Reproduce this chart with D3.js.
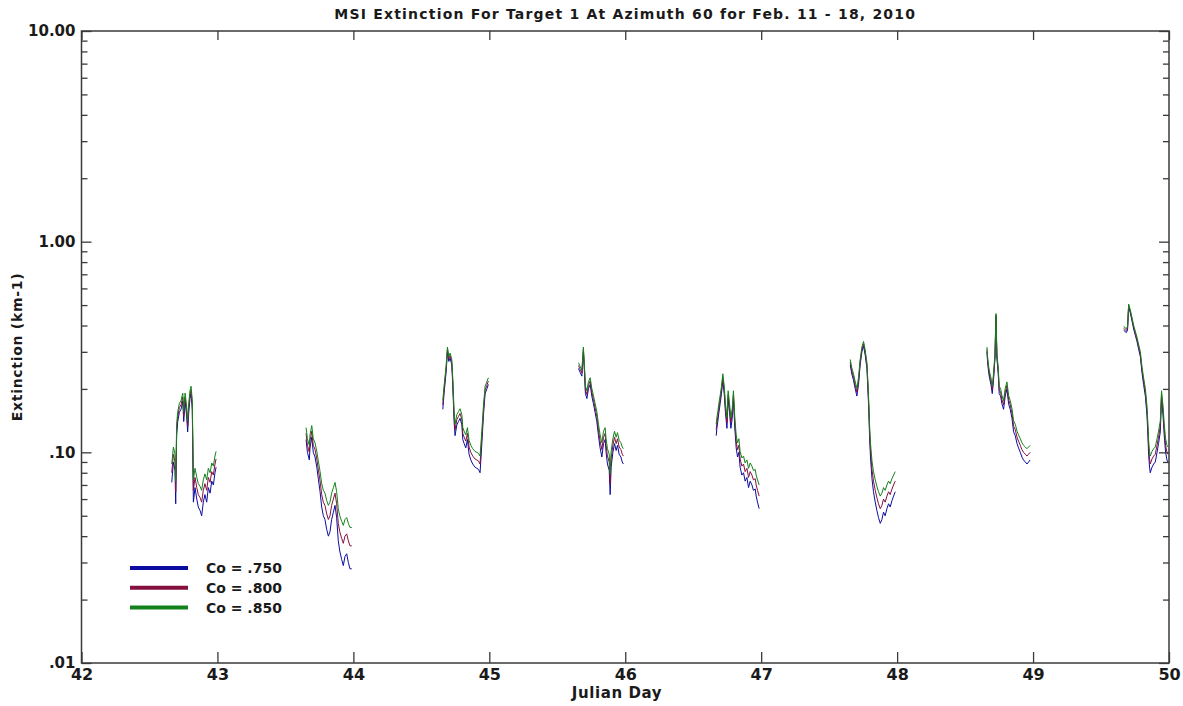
<!DOCTYPE html>
<meta charset='utf-8'>
<title>MSI Extinction</title>
<style>
body {
  margin: 0;
  background-color: #fff;
}
text {
  font-family: "DejaVu Sans", sans-serif;
  font-weight: bold;
  fill: #1a1a1a;
}
</style>
<svg width="1183" height="706"></svg>
<script src="https://d3js.org/d3.v7.min.js"></script>
<script>

// Julian day of each sample (8 daytime runs, Feb 11 - 18)
var julianDay = [
  42.664, 42.676, 42.688, 42.693, 42.700, 42.708, 42.720, 42.732, 42.745, 42.752, 42.762, 42.773, 42.781, 42.789, 42.798, 42.806, 42.815, 42.823, 42.835, 42.848, 42.859, 42.872, 42.884, 42.896, 42.908, 42.921, 42.933, 42.946, 42.958, 42.970, 42.982, 42.990,
  43.652, 43.662, 43.676, 43.681, 43.694, 43.705, 43.718, 43.731, 43.742, 43.755, 43.767, 43.779, 43.791, 43.804, 43.816, 43.828, 43.840, 43.853, 43.865, 43.877, 43.889, 43.900, 43.914, 43.926, 43.938, 43.951, 43.963, 43.975, 43.988,
  44.658, 44.667, 44.682, 44.692, 44.702, 44.712, 44.724, 44.731, 44.741, 44.748, 44.761, 44.773, 44.785, 44.798, 44.805, 44.815, 44.827, 44.839, 44.851, 44.864, 44.878, 44.895, 44.908, 44.920, 44.932, 44.945, 44.957, 44.969, 44.982, 44.993,
  45.656, 45.668, 45.681, 45.692, 45.700, 45.707, 45.718, 45.729, 45.742, 45.754, 45.766, 45.778, 45.791, 45.803, 45.815, 45.828, 45.840, 45.852, 45.859, 45.869, 45.882, 45.889, 45.896, 45.909, 45.921, 45.933, 45.943, 45.955, 45.968, 45.978, 45.986,
  46.669, 46.674, 46.681, 46.689, 46.698, 46.708, 46.718, 46.728, 46.737, 46.748, 46.757, 46.767, 46.777, 46.787, 46.796, 46.806, 46.816, 46.826, 46.836, 46.845, 46.858, 46.870, 46.882, 46.895, 46.907, 46.919, 46.932, 46.943, 46.956, 46.963, 46.973, 46.985,
  47.655, 47.667, 47.679, 47.692, 47.704, 47.716, 47.728, 47.741, 47.753, 47.765, 47.778, 47.785, 47.792, 47.797, 47.804, 47.815, 47.826, 47.839, 47.851, 47.863, 47.876, 47.888, 47.900, 47.912, 47.925, 47.937, 47.949, 47.962, 47.974, 47.986,
  48.661, 48.665, 48.673, 48.680, 48.690, 48.700, 48.709, 48.720, 48.727, 48.734, 48.744, 48.751, 48.761, 48.771, 48.783, 48.795, 48.808, 48.820, 48.832, 48.845, 48.857, 48.869, 48.882, 48.893, 48.906, 48.918, 48.930, 48.943, 48.955, 48.967, 48.979,
  49.666, 49.686, 49.695, 49.703, 49.715, 49.728, 49.740, 49.752, 49.765, 49.776, 49.789, 49.801, 49.813, 49.826, 49.838, 49.845, 49.850, 49.857, 49.862, 49.875, 49.887, 49.899, 49.912, 49.923, 49.936, 49.945, 49.956, 49.965, 49.975, 49.985, 49.992
];

// extinction (km-1) for Co = .750
var co750 = [
  0.072, 0.090, 0.082, 0.057, 0.120, 0.140, 0.155, 0.160, 0.175, 0.140, 0.175, 0.150, 0.125, 0.155, 0.180, 0.190, 0.160, 0.058, 0.068, 0.060, 0.055, 0.053, 0.050, 0.058, 0.063, 0.058, 0.068, 0.064, 0.073, 0.070, 0.080, 0.085,
  0.115, 0.100, 0.092, 0.105, 0.118, 0.100, 0.095, 0.085, 0.075, 0.065, 0.055, 0.050, 0.048, 0.043, 0.040, 0.042, 0.048, 0.052, 0.056, 0.049, 0.038, 0.034, 0.031, 0.029, 0.032, 0.033, 0.030, 0.028, 0.028,
  0.160, 0.190, 0.240, 0.300, 0.270, 0.280, 0.260, 0.210, 0.140, 0.120, 0.135, 0.140, 0.145, 0.135, 0.115, 0.110, 0.105, 0.115, 0.098, 0.092, 0.088, 0.085, 0.084, 0.083, 0.080, 0.110, 0.150, 0.190, 0.200, 0.210,
  0.250, 0.240, 0.230, 0.300, 0.240, 0.190, 0.180, 0.200, 0.210, 0.185, 0.170, 0.155, 0.140, 0.120, 0.105, 0.095, 0.110, 0.115, 0.100, 0.088, 0.082, 0.063, 0.085, 0.100, 0.110, 0.102, 0.108, 0.098, 0.095, 0.090, 0.088,
  0.120, 0.130, 0.140, 0.155, 0.170, 0.190, 0.220, 0.190, 0.155, 0.130, 0.180, 0.155, 0.130, 0.145, 0.180, 0.130, 0.105, 0.095, 0.100, 0.085, 0.078, 0.080, 0.073, 0.076, 0.068, 0.073, 0.070, 0.066, 0.067, 0.062, 0.058, 0.054,
  0.260, 0.235, 0.220, 0.200, 0.185, 0.210, 0.260, 0.300, 0.320, 0.290, 0.250, 0.200, 0.155, 0.120, 0.095, 0.075, 0.065, 0.058, 0.053, 0.049, 0.046, 0.048, 0.052, 0.050, 0.054, 0.057, 0.055, 0.059, 0.062, 0.065,
  0.300, 0.270, 0.240, 0.225, 0.210, 0.190, 0.220, 0.280, 0.440, 0.280, 0.235, 0.190, 0.185, 0.170, 0.160, 0.185, 0.200, 0.170, 0.160, 0.145, 0.125, 0.120, 0.110, 0.105, 0.100, 0.095, 0.092, 0.090, 0.088, 0.090, 0.092,
  0.380, 0.370, 0.380, 0.490, 0.460, 0.420, 0.385, 0.360, 0.335, 0.310, 0.285, 0.240, 0.210, 0.185, 0.150, 0.120, 0.098, 0.085, 0.080, 0.085, 0.088, 0.090, 0.100, 0.110, 0.125, 0.180, 0.150, 0.120, 0.100, 0.092, 0.090
];

// extinction (km-1) for Co = .800
var co800 = [
  0.080, 0.098, 0.090, 0.065, 0.128, 0.148, 0.163, 0.168, 0.183, 0.148, 0.183, 0.158, 0.133, 0.163, 0.188, 0.198, 0.168, 0.066, 0.076, 0.068, 0.063, 0.061, 0.058, 0.066, 0.071, 0.066, 0.076, 0.072, 0.081, 0.078, 0.088, 0.093,
  0.123, 0.108, 0.100, 0.113, 0.126, 0.108, 0.103, 0.093, 0.083, 0.073, 0.063, 0.058, 0.056, 0.051, 0.048, 0.050, 0.056, 0.060, 0.064, 0.057, 0.046, 0.042, 0.039, 0.037, 0.040, 0.041, 0.038, 0.036, 0.036,
  0.168, 0.198, 0.248, 0.308, 0.278, 0.288, 0.268, 0.218, 0.148, 0.128, 0.143, 0.148, 0.153, 0.143, 0.123, 0.118, 0.113, 0.123, 0.106, 0.100, 0.096, 0.093, 0.092, 0.091, 0.088, 0.118, 0.158, 0.198, 0.208, 0.218,
  0.258, 0.248, 0.238, 0.308, 0.248, 0.198, 0.188, 0.208, 0.218, 0.193, 0.178, 0.163, 0.148, 0.128, 0.113, 0.103, 0.118, 0.123, 0.108, 0.096, 0.090, 0.071, 0.093, 0.108, 0.118, 0.110, 0.116, 0.106, 0.103, 0.098, 0.096,
  0.128, 0.138, 0.148, 0.163, 0.178, 0.198, 0.228, 0.198, 0.163, 0.138, 0.188, 0.163, 0.138, 0.153, 0.188, 0.138, 0.113, 0.103, 0.108, 0.093, 0.086, 0.088, 0.081, 0.084, 0.076, 0.081, 0.078, 0.074, 0.075, 0.070, 0.066, 0.062,
  0.268, 0.243, 0.228, 0.208, 0.193, 0.218, 0.268, 0.308, 0.328, 0.298, 0.258, 0.208, 0.163, 0.128, 0.103, 0.083, 0.073, 0.066, 0.061, 0.057, 0.054, 0.056, 0.060, 0.058, 0.062, 0.065, 0.063, 0.067, 0.070, 0.073,
  0.308, 0.278, 0.248, 0.233, 0.218, 0.198, 0.228, 0.288, 0.448, 0.288, 0.243, 0.198, 0.193, 0.178, 0.168, 0.193, 0.208, 0.178, 0.168, 0.153, 0.133, 0.128, 0.118, 0.113, 0.108, 0.103, 0.100, 0.098, 0.096, 0.098, 0.100,
  0.388, 0.378, 0.388, 0.498, 0.468, 0.428, 0.393, 0.368, 0.343, 0.318, 0.293, 0.248, 0.218, 0.193, 0.158, 0.128, 0.106, 0.093, 0.088, 0.093, 0.096, 0.098, 0.108, 0.118, 0.133, 0.188, 0.158, 0.128, 0.108, 0.100, 0.098
];

// extinction (km-1) for Co = .850
var co850 = [
  0.088, 0.106, 0.098, 0.073, 0.136, 0.156, 0.171, 0.176, 0.191, 0.156, 0.191, 0.166, 0.141, 0.171, 0.196, 0.206, 0.176, 0.074, 0.084, 0.076, 0.071, 0.069, 0.066, 0.074, 0.079, 0.074, 0.084, 0.080, 0.089, 0.086, 0.096, 0.101,
  0.131, 0.116, 0.108, 0.121, 0.134, 0.116, 0.111, 0.101, 0.091, 0.081, 0.071, 0.066, 0.064, 0.059, 0.056, 0.058, 0.064, 0.068, 0.072, 0.065, 0.054, 0.050, 0.047, 0.045, 0.048, 0.049, 0.046, 0.044, 0.044,
  0.176, 0.206, 0.256, 0.316, 0.286, 0.296, 0.276, 0.226, 0.156, 0.136, 0.151, 0.156, 0.161, 0.151, 0.131, 0.126, 0.121, 0.131, 0.114, 0.108, 0.104, 0.101, 0.100, 0.099, 0.096, 0.126, 0.166, 0.206, 0.216, 0.226,
  0.266, 0.256, 0.246, 0.316, 0.256, 0.206, 0.196, 0.216, 0.226, 0.201, 0.186, 0.171, 0.156, 0.136, 0.121, 0.111, 0.126, 0.131, 0.116, 0.104, 0.098, 0.079, 0.101, 0.116, 0.126, 0.118, 0.124, 0.114, 0.111, 0.106, 0.104,
  0.136, 0.146, 0.156, 0.171, 0.186, 0.206, 0.236, 0.206, 0.171, 0.146, 0.196, 0.171, 0.146, 0.161, 0.196, 0.146, 0.121, 0.111, 0.116, 0.101, 0.094, 0.096, 0.089, 0.092, 0.084, 0.089, 0.086, 0.082, 0.083, 0.078, 0.074, 0.070,
  0.276, 0.251, 0.236, 0.216, 0.201, 0.226, 0.276, 0.316, 0.336, 0.306, 0.266, 0.216, 0.171, 0.136, 0.111, 0.091, 0.081, 0.074, 0.069, 0.065, 0.062, 0.064, 0.068, 0.066, 0.070, 0.073, 0.071, 0.075, 0.078, 0.081,
  0.316, 0.286, 0.256, 0.241, 0.226, 0.206, 0.236, 0.296, 0.456, 0.296, 0.251, 0.206, 0.201, 0.186, 0.176, 0.201, 0.216, 0.186, 0.176, 0.161, 0.141, 0.136, 0.126, 0.121, 0.116, 0.111, 0.108, 0.106, 0.104, 0.106, 0.108,
  0.396, 0.386, 0.396, 0.506, 0.476, 0.436, 0.401, 0.376, 0.351, 0.326, 0.301, 0.256, 0.226, 0.201, 0.166, 0.136, 0.114, 0.101, 0.096, 0.101, 0.104, 0.106, 0.116, 0.126, 0.141, 0.196, 0.166, 0.136, 0.116, 0.108, 0.106
];

var seriesNames = ["Co = .750", "Co = .800", "Co = .850"];
var seriesColors = ["#0c0ca0", "#84103e", "#13821a"];

var xTicks = [42, 43, 44, 45, 46, 47, 48, 49, 50];
var yTicks = [0.01, 0.1, 1, 10];
var yTickLabels = [".01", ".10", "1.00", "10.00"];

var svg = d3.select("svg");

// plot box in pixels
var plotLeft = 81.5, plotRight = 1169, plotTop = 31, plotBottom = 663;

var x = d3.scaleLinear().domain([42, 50]).range([plotLeft, plotRight]);
var y = d3.scaleLog().domain([0.01, 10]).range([plotBottom, plotTop]);

// minor log ticks 2..9 in every decade
var minorTicks = y.ticks().filter(function(d) {
  return !yTicks.some(function(t) { return Math.abs(t - d) < 1e-9; });
});

// break the record into daytime runs
function runs(values) {
  var out = [], cur = [];
  julianDay.forEach(function(d, i) {
    if (i > 0 && d - julianDay[i - 1] > 0.3) { out.push(cur); cur = []; }
    cur.push([d, values[i]]);
  });
  out.push(cur);
  return out;
}

var line = d3.line()
    .x(function(d) { return x(d[0]); })
    .y(function(d) { return y(d[1]); });

[co750, co800, co850].forEach(function(values, k) {
  svg.append("g")
    .selectAll("path")
    .data(runs(values))
    .enter().append("path")
      .attr("d", line)
      .attr("fill", "none")
      .attr("stroke", seriesColors[k])
      .attr("stroke-width", 1);
});

// frame
svg.append("rect")
    .attr("x", plotLeft)
    .attr("y", plotTop)
    .attr("width", plotRight - plotLeft)
    .attr("height", plotBottom - plotTop)
    .attr("fill", "none")
    .attr("stroke", "#3a3a3a")
    .attr("stroke-width", 1.5);

// bottom axis with labels, ticks pointing in
var gx = svg.append("g")
    .attr("transform", "translate(0," + plotBottom + ")")
    .call(d3.axisBottom(x).tickValues(xTicks).tickSize(-11).tickPadding(6).tickFormat(d3.format("d")));
gx.select(".domain").remove();

var gxTop = svg.append("g")
    .attr("transform", "translate(0," + plotTop + ")")
    .call(d3.axisTop(x).tickValues(xTicks).tickSize(-9).tickFormat(""));
gxTop.select(".domain").remove();

// left axis
var gy = svg.append("g")
    .attr("transform", "translate(" + plotLeft + ",0)")
    .call(d3.axisLeft(y).tickValues(yTicks).tickSize(-10).tickPadding(6)
      .tickFormat(function(d, i) { return yTickLabels[i]; }));
gy.select(".domain").remove();

svg.append("g")
    .attr("transform", "translate(" + plotLeft + ",0)")
    .call(d3.axisLeft(y).tickValues(minorTicks).tickSize(-6).tickFormat(""))
    .select(".domain").remove();

// right axis
svg.append("g")
    .attr("transform", "translate(" + plotRight + ",0)")
    .call(d3.axisRight(y).tickValues(yTicks).tickSize(-10).tickFormat(""))
    .select(".domain").remove();

svg.append("g")
    .attr("transform", "translate(" + plotRight + ",0)")
    .call(d3.axisRight(y).tickValues(minorTicks).tickSize(-6).tickFormat(""))
    .select(".domain").remove();

svg.selectAll(".tick line")
    .attr("stroke", "#3a3a3a")
    .attr("stroke-width", 1.3);

gx.selectAll("text")
    .attr("font-size", 16)
    .attr("font-family", null)
    .attr("fill", null);

gy.selectAll("text")
    .attr("font-size", 15)
    .attr("font-family", null)
    .attr("fill", null);

// titles
svg.append("text")
    .attr("x", (plotLeft + plotRight) / 2)
    .attr("y", 19)
    .attr("text-anchor", "middle")
    .attr("font-size", 14)
    .attr("letter-spacing", 1.2)
    .text("MSI Extinction For Target 1 At Azimuth 60 for Feb. 11 - 18, 2010");

svg.append("text")
    .attr("x", 617)
    .attr("y", 698)
    .attr("text-anchor", "middle")
    .attr("font-size", 15)
    .attr("letter-spacing", 0.6)
    .text("Julian Day");

svg.append("text")
    .attr("transform", "translate(22," + ((plotTop + plotBottom) / 2) + ") rotate(-90)")
    .attr("text-anchor", "middle")
    .attr("font-size", 14)
    .attr("letter-spacing", 0.7)
    .text("Extinction (km-1)");

// legend
var legend = svg.append("g")
  .selectAll("g")
  .data(seriesNames)
  .enter().append("g")
    .attr("transform", function(d, i) { return "translate(130," + (568 + i * 19.8) + ")"; });

legend.append("line")
    .attr("x1", 0)
    .attr("x2", 58)
    .attr("stroke", function(d, i) { return seriesColors[i]; })
    .attr("stroke-width", 4);

legend.append("text")
    .attr("x", 76)
    .attr("y", 5)
    .attr("font-size", 14)
    .text(function(d) { return d; });

</script>
